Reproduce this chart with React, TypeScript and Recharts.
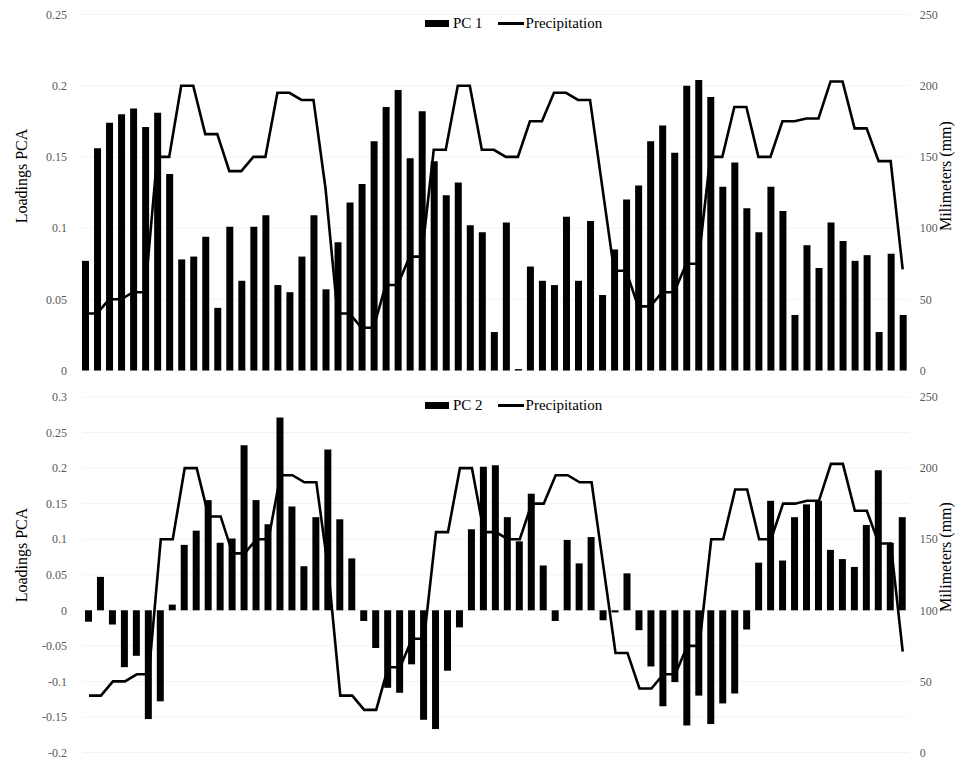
import { Bar, CartesianGrid, ComposedChart, Line, XAxis, YAxis } from "recharts";

// 69 sampling periods, 3 rainy cycles
const periods = Array.from({ length: 69 }, (_, i) => String(i + 1));

const pc1 = [
  0.077, 0.156, 0.174, 0.18, 0.184, 0.171, 0.181, 0.138, 0.078, 0.08,
  0.094, 0.044, 0.101, 0.063, 0.101, 0.109, 0.06, 0.055, 0.08, 0.109,
  0.057, 0.09, 0.118, 0.131, 0.161, 0.185, 0.197, 0.149, 0.182, 0.147,
  0.123, 0.132, 0.102, 0.097, 0.027, 0.104, 0.001, 0.073, 0.063, 0.06,
  0.108, 0.063, 0.105, 0.053, 0.085, 0.12, 0.13, 0.161, 0.172, 0.153,
  0.2, 0.204, 0.192, 0.129, 0.146, 0.114, 0.097, 0.129, 0.112, 0.039,
  0.088, 0.072, 0.104, 0.091, 0.077, 0.081, 0.027, 0.082, 0.039,
];

const pc2 = [
  -0.016, 0.047, -0.02, -0.08, -0.064, -0.153, -0.128, 0.008, 0.092, 0.112,
  0.155, 0.095, 0.101, 0.232, 0.155, 0.121, 0.271, 0.146, 0.062, 0.131,
  0.226, 0.128, 0.073, -0.015, -0.053, -0.109, -0.116, -0.076, -0.154, -0.167,
  -0.085, -0.024, 0.114, 0.202, 0.204, 0.131, 0.097, 0.164, 0.063, -0.015,
  0.099, 0.066, 0.103, -0.014, -0.003, 0.052, -0.028, -0.079, -0.135, -0.101,
  -0.162, -0.12, -0.16, -0.131, -0.117, -0.027, 0.067, 0.154, 0.07, 0.131,
  0.149, 0.154, 0.085, 0.072, 0.061, 0.12, 0.197, 0.095, 0.131,
];

const precipitation = [
  40, 40, 50, 50, 55, 55, 150, 150, 200, 200,
  166, 166, 140, 140, 150, 150, 195, 195, 190, 190,
  128, 40, 40, 30, 30, 60, 60, 80, 80, 155,
  155, 200, 200, 155, 155, 150, 150, 175, 175, 195,
  195, 190, 190, 130, 70, 70, 45, 45, 55, 55,
  75, 75, 150, 150, 185, 185, 150, 150, 175, 175,
  177, 177, 203, 203, 170, 170, 147, 147, 71,
];

const pc1Ticks = [0, 0.05, 0.1, 0.15, 0.2, 0.25];
const pc2Ticks = [-0.2, -0.15, -0.1, -0.05, 0, 0.05, 0.1, 0.15, 0.2, 0.25, 0.3];
const mmTicks = [0, 50, 100, 150, 200, 250];

const SERIF = '"Liberation Serif", "Times New Roman", serif';
const tickStyle = { fill: "#595959", fontSize: 12, fontFamily: SERIF };

function Legend({ name, top }: { name: string; top: number }) {
  return (
    <div
      style={{
        position: "absolute",
        left: 425,
        top,
        height: 17,
        display: "flex",
        alignItems: "center",
        fontFamily: SERIF,
        fontSize: 15,
        lineHeight: "17px",
        color: "#000",
        whiteSpace: "nowrap",
      }}
    >
      <span style={{ width: 24, height: 7, background: "#000", marginRight: 4 }} />
      <span>{name}</span>
      <span style={{ width: 26, height: 2.5, background: "#000", marginLeft: 15, marginRight: 2 }} />
      <span>Precipitation</span>
    </div>
  );
}

function AxisTitle({ text, x, y }: { text: string; x: number; y: number }) {
  return (
    <div
      style={{
        position: "absolute",
        left: x,
        top: y,
        transform: "translate(-50%, -50%) rotate(-90deg)",
        fontFamily: SERIF,
        fontSize: 16,
        color: "#000",
        whiteSpace: "nowrap",
      }}
    >
      {text}
    </div>
  );
}

function Panel({
  values,
  domain,
  ticks,
  top,
  height,
  margin,
  leftWidth,
}: {
  values: number[];
  domain: [number, number];
  ticks: number[];
  top: number;
  height: number;
  margin: { top: number; bottom: number };
  leftWidth: number;
}) {
  const data = periods.map((p, i) => ({ period: p, pc: values[i], mm: precipitation[i] }));
  return (
    <div style={{ position: "absolute", left: 0, top, fontFamily: SERIF }}>
      <ComposedChart
        width={964}
        height={height}
        data={data}
        style={{ fontFamily: SERIF }}
        margin={{ top: margin.top, bottom: margin.bottom, left: 0, right: 0 }}
      >
        <CartesianGrid yAxisId="left" vertical={false} stroke="#f3f3f3" />
        <XAxis dataKey="period" hide />
        <YAxis
          yAxisId="left"
          type="number"
          domain={domain}
          ticks={ticks}
          interval={0}
          width={leftWidth}
          axisLine={false}
          tickLine={false}
          tickSize={0}
          tickMargin={leftWidth - 67}
          tick={tickStyle}
        />
        <YAxis
          yAxisId="right"
          orientation="right"
          type="number"
          domain={[0, 250]}
          ticks={mmTicks}
          interval={0}
          width={55.3}
          axisLine={false}
          tickLine={false}
          tickSize={0}
          tickMargin={11}
          tick={tickStyle}
        />
        <Bar yAxisId="left" dataKey="pc" fill="#000" barSize={7} isAnimationActive={false} />
        <Line
          yAxisId="right"
          dataKey="mm"
          type="linear"
          stroke="#000"
          strokeWidth={2.6}
          dot={false}
          activeDot={false}
          isAnimationActive={false}
        />
      </ComposedChart>
    </div>
  );
}

export default function App() {
  return (
    <div
      style={{
        position: "absolute",
        left: 0,
        top: 0,
        width: 964,
        height: 761,
        background: "#fff",
        overflow: "hidden",
        fontFamily: SERIF,
      }}
    >
      <Panel
        values={pc1}
        domain={[0, 0.25]}
        ticks={pc1Ticks}
        top={0}
        height={385}
        margin={{ top: 14.5, bottom: 14.5 }}
        leftWidth={79}
      />
      <Panel
        values={pc2}
        domain={[-0.2, 0.3]}
        ticks={pc2Ticks}
        top={385}
        height={376}
        margin={{ top: 12, bottom: 8.5 }}
        leftWidth={83}
      />
      <Legend name="PC 1" top={15} />
      <Legend name="PC 2" top={397} />
      <AxisTitle text="Loadings PCA" x={22} y={176} />
      <AxisTitle text="Milimeters (mm)" x={946} y={176} />
      <AxisTitle text="Loadings PCA" x={22} y={555} />
      <AxisTitle text="Milimeters (mm)" x={946} y={557} />
    </div>
  );
}
